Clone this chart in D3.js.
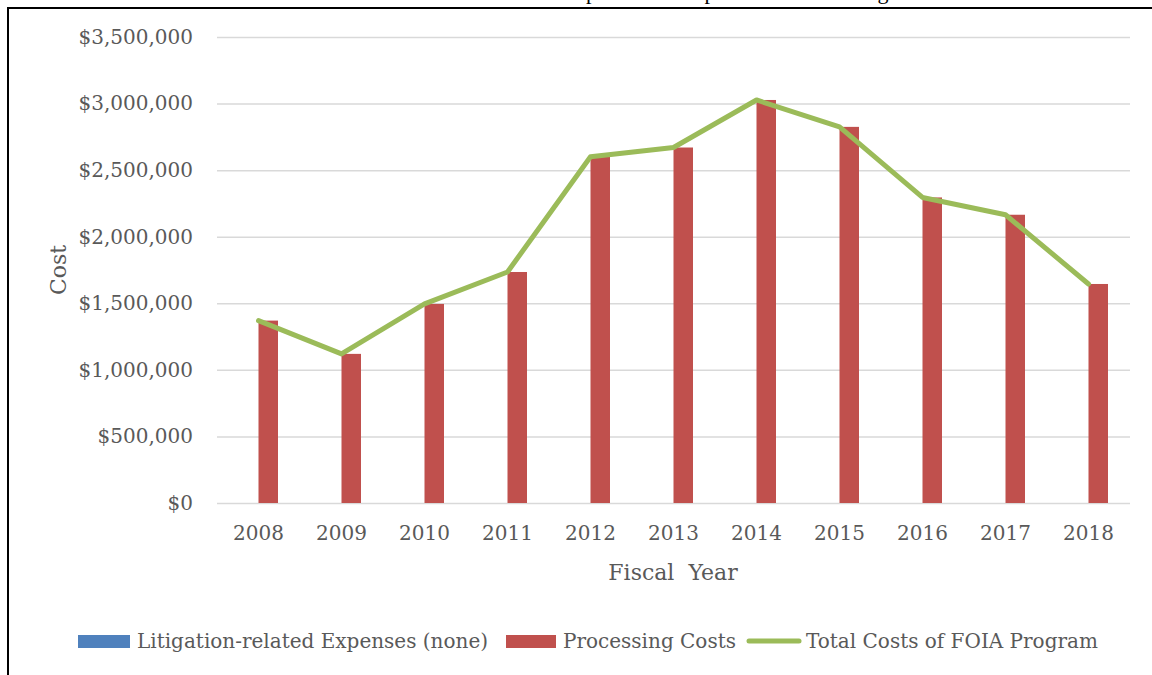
<!DOCTYPE html>
<html>
<head>
<meta charset="utf-8">
<script src="https://cdn.jsdelivr.net/npm/d3@7"></script>
<style>
	body { margin: 0; background: #fff; }
	svg { display: block; }
	text { white-space: pre; }
</style>
</head>
<body>
<div id="chart"></div>
<script>
// data
const years = ['2008', '2009', '2010', '2011', '2012', '2013', '2014', '2015', '2016', '2017', '2018'];
const litigation_costs = [0, 0, 0, 0, 0, 0, 0, 0, 0, 0, 0];
const processing_costs = [1370000, 1120000, 1495000, 1735000, 2600000, 2670000, 3027000, 2825000, 2295000, 2165000, 1645000];
const total_costs = [1370000, 1120000, 1495000, 1735000, 2600000, 2670000, 3027000, 2825000, 2295000, 2165000, 1645000];
const y_ticks = [0, 500000, 1000000, 1500000, 2000000, 2500000, 3000000, 3500000];
const legend_labels = ['Litigation-related Expenses (none)', 'Processing Costs', 'Total Costs of FOIA Program'];

const width = 1152;
const height = 675;
const text_color = '#595959';
const font = 'DejaVu Serif';

const svg = d3.select('#chart')
	.append('svg')
	.attr('width', width)
	.attr('height', height);

// cut-off title, only the descenders peek over the frame
const title = svg.append('text')
	.attr('y', -1)
	.attr('font-family', 'Liberation Serif')
	.attr('font-size', 22)
	.attr('fill', '#000')
	.text('Comparison of Expenses to FOIA Program Costs');
const first_p = title.node().getSubStringLength(0, 3);
title.attr('x', 586 - first_p);

// frame
svg.append('path')
	.attr('d', 'M8,' + height + 'V8H' + width)
	.attr('fill', 'none')
	.attr('stroke', '#000')
	.attr('stroke-width', 2);

const x = d3.scaleBand()
	.domain(years)
	.range([217, 1130]);

const y = d3.scaleLinear()
	.domain([0, 3500000])
	.range([503, 37]);

const bar_w = 19.5;

// gridlines + y labels
const y_axis = svg.append('g')
	.attr('transform', 'translate(217,0)')
	.call(d3.axisLeft(y)
		.tickValues(y_ticks)
		.tickSize(-913)
		.tickPadding(24)
		.tickFormat(d => '$' + d3.format(',')(d)));

y_axis.select('.domain').remove();
y_axis.selectAll('line')
	.attr('stroke', '#D9D9D9')
	.attr('stroke-width', 1.5);
y_axis.selectAll('text')
	.attr('font-family', font)
	.attr('font-size', 20)
	.attr('fill', text_color);

// x labels
const x_axis = svg.append('g')
	.attr('transform', 'translate(0,503)')
	.call(d3.axisBottom(x).tickSize(0).tickPadding(23));
x_axis.select('.domain').remove();
x_axis.selectAll('text')
	.attr('font-family', font)
	.attr('font-size', 20)
	.attr('fill', text_color);

// bars
svg.append('g')
	.selectAll('rect')
	.data(years)
	.join('rect')
	.attr('x', d => x(d) + x.bandwidth() / 2 - bar_w)
	.attr('y', (d, i) => y(litigation_costs[i]))
	.attr('width', bar_w)
	.attr('height', (d, i) => y(0) - y(litigation_costs[i]))
	.attr('fill', '#4F81BD');

svg.append('g')
	.selectAll('rect')
	.data(years)
	.join('rect')
	.attr('x', d => x(d) + x.bandwidth() / 2)
	.attr('y', (d, i) => y(processing_costs[i]))
	.attr('width', bar_w)
	.attr('height', (d, i) => y(0) - y(processing_costs[i]))
	.attr('fill', '#C0504D');

// total line
const line = d3.line()
	.x((d, i) => x(years[i]) + x.bandwidth() / 2)
	.y(d => y(d));

svg.append('path')
	.datum(total_costs)
	.attr('d', line)
	.attr('fill', 'none')
	.attr('stroke', '#9BBB59')
	.attr('stroke-width', 5)
	.attr('stroke-linejoin', 'round')
	.attr('stroke-linecap', 'round');

// axis titles
svg.append('text')
	.attr('transform', 'translate(66,270) rotate(-90)')
	.attr('text-anchor', 'middle')
	.attr('font-family', font)
	.attr('font-size', 22)
	.attr('fill', text_color)
	.text('Cost');

svg.append('text')
	.attr('x', 673)
	.attr('y', 580)
	.attr('text-anchor', 'middle')
	.attr('font-family', font)
	.attr('font-size', 22)
	.attr('fill', text_color)
	.text('Fiscal  Year');

// legend
const legend_y = 641;
const legend = svg.append('g');

legend.append('rect')
	.attr('x', 78).attr('y', legend_y - 6)
	.attr('width', 52).attr('height', 13)
	.attr('fill', '#4F81BD');
legend.append('text')
	.attr('x', 137).attr('y', legend_y + 7)
	.text(legend_labels[0]);

legend.append('rect')
	.attr('x', 506).attr('y', legend_y - 6)
	.attr('width', 50).attr('height', 13)
	.attr('fill', '#C0504D');
legend.append('text')
	.attr('x', 563).attr('y', legend_y + 7)
	.text(legend_labels[1]);

legend.append('line')
	.attr('x1', 749).attr('x2', 799)
	.attr('y1', legend_y).attr('y2', legend_y)
	.attr('stroke', '#9BBB59')
	.attr('stroke-width', 5)
	.attr('stroke-linecap', 'round');
legend.append('text')
	.attr('x', 806).attr('y', legend_y + 7)
	.text(legend_labels[2]);

legend.selectAll('text')
	.attr('font-family', font)
	.attr('font-size', 20)
	.attr('fill', text_color);
</script>
</body>
</html>
